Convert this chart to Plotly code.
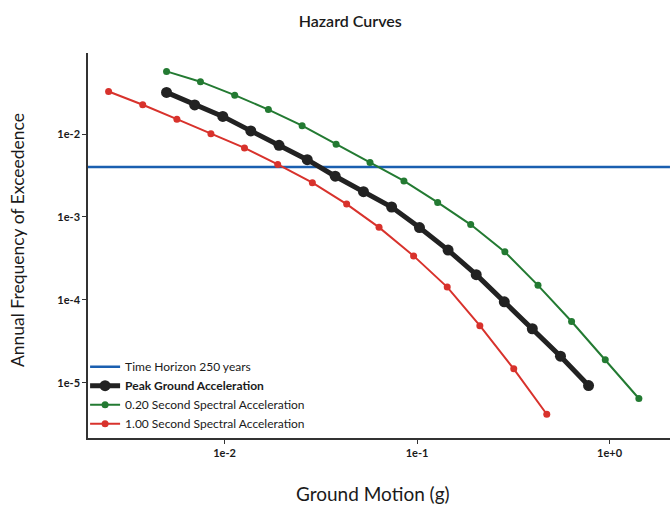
import plotly.graph_objects as go

# Ground motion (g) and annual frequency of exceedance
pga_x = [0.0050, 0.0070, 0.0098, 0.0137, 0.0192, 0.0269, 0.0376, 0.0527,
         0.0738, 0.103, 0.145, 0.203, 0.284, 0.397, 0.556, 0.778]
pga_y = [0.0317, 0.0224, 0.0163, 0.0109, 0.0073, 0.0049, 0.0031, 0.00202,
         0.00132, 7.45e-4, 3.99e-4, 2.02e-4, 9.5e-5, 4.5e-5, 2.1e-5, 9.3e-6]

sa02_x = [0.0050, 0.0075, 0.0113, 0.0169, 0.0253, 0.038, 0.057, 0.0855,
          0.128, 0.190, 0.286, 0.425, 0.635, 0.95, 1.42]
sa02_y = [0.0568, 0.0427, 0.0294, 0.0197, 0.0126, 0.0075, 0.00454, 0.00272,
          0.00150, 8.1e-4, 3.8e-4, 1.50e-4, 5.5e-5, 1.9e-5, 6.5e-6]

sa10_x = [0.0025, 0.00376, 0.00566, 0.0085, 0.0127, 0.0189, 0.0286, 0.0431,
          0.0635, 0.096, 0.1435, 0.212, 0.318, 0.472]
sa10_y = [0.0325, 0.0225, 0.0151, 0.0101, 0.0068, 0.0043, 0.00259, 0.00143,
          7.5e-4, 3.4e-4, 1.43e-4, 4.9e-5, 1.48e-5, 4.2e-6]

horizon_years = 250
horizon_x = [0.00195, 2.06]
horizon_y = [1 / horizon_years, 1 / horizon_years]

x_tickvals = [0.01, 0.1, 1]
x_ticktext = ["1e-2", "1e-1", "1e+0"]
y_tickvals = [1e-5, 1e-4, 1e-3, 1e-2]
y_ticktext = ["1e-5", "1e-4", "1e-3", "1e-2"]

FONT = "Lato"
TXT = "#1a1a1a"

fig = go.Figure()
fig.add_trace(go.Scatter(x=horizon_x, y=horizon_y, mode="lines",
                         name="Time Horizon 250 years",
                         line=dict(color="#1a5fb0", width=2.5)))
fig.add_trace(go.Scatter(x=pga_x, y=pga_y, mode="lines+markers",
                         name="<b>Peak Ground Acceleration</b>",
                         line=dict(color="#222222", width=5),
                         marker=dict(color="#222222", size=11)))
fig.add_trace(go.Scatter(x=sa02_x, y=sa02_y, mode="lines+markers",
                         name="0.20 Second Spectral Acceleration",
                         line=dict(color="#237a32", width=2),
                         marker=dict(color="#237a32", size=7)))
fig.add_trace(go.Scatter(x=sa10_x, y=sa10_y, mode="lines+markers",
                         name="1.00 Second Spectral Acceleration",
                         line=dict(color="#d8322c", width=2),
                         marker=dict(color="#d8322c", size=7)))

fig.update_layout(
    width=671, height=508,
    margin=dict(l=88, r=1, t=53, b=70),
    paper_bgcolor="white", plot_bgcolor="white",
    font=dict(family=FONT, color=TXT),
    title=dict(text="Hazard Curves", x=0.522, xanchor="center", y=0.957,
               yanchor="middle",
               font=dict(size=16, family=FONT, color=TXT, weight=600)),
    showlegend=True,
    legend=dict(x=-0.005, y=0.223, xanchor="left", yanchor="top",
                bgcolor="rgba(0,0,0,0)",
                font=dict(size=12, family=FONT, color=TXT),
                tracegroupgap=0, itemwidth=30),
    xaxis=dict(type="log", range=[-2.709, 0.314], automargin=False,
               tickvals=x_tickvals, ticktext=x_ticktext,
               showgrid=False, zeroline=False,
               showline=True, linecolor="#333", linewidth=1.5,
               ticks="outside", ticklen=4, tickcolor="#333",
               tickfont=dict(size=11, family=FONT, color=TXT, weight="bold")),
    yaxis=dict(type="log", range=[-5.663, -1.024], automargin=False,
               tickvals=y_tickvals, ticktext=y_ticktext,
               showgrid=False, zeroline=False,
               showline=True, linecolor="#333", linewidth=1.5,
               ticks="outside", ticklen=4, tickcolor="#333",
               tickfont=dict(size=11, family=FONT, color=TXT, weight="bold")),
    annotations=[
        dict(text="Ground Motion (g)", xref="paper", yref="paper",
             x=0.49, y=-0.143, xanchor="center", yanchor="middle",
             showarrow=False, font=dict(size=19, family=FONT, color=TXT)),
        dict(text="Annual Frequency of Exceedence", xref="paper", yref="paper",
             x=-0.122, y=0.514, xanchor="center", yanchor="middle",
             textangle=-90, showarrow=False,
             font=dict(size=17.5, family=FONT, color=TXT)),
    ],
)

fig.write_html("out.html", config={"displayModeBar": False},
               post_script="document.body.style.margin='0';document.body.style.overflow='hidden';")
